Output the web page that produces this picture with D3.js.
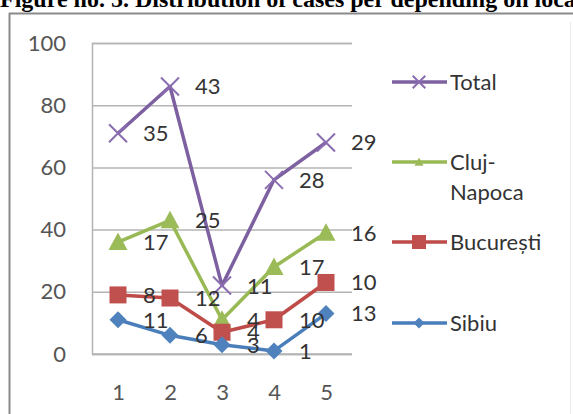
<!DOCTYPE html>
<html>
<head>
<meta charset="utf-8">
<script src="https://cdn.jsdelivr.net/npm/d3@7/dist/d3.min.js"></script>
<style>
  html, body { margin: 0; padding: 0; background: #fff; }
  svg { display: block; }
</style>
</head>
<body>
<svg id="chart" width="573" height="414"></svg>
<script>
// Cases per location, per period (stacked line chart)
const categories = ["1", "2", "3", "4", "5"];
const seriesNames = ["Sibiu", "București", "Cluj-Napoca", "Total"];
const sibiu = [11, 6, 3, 1, 13];
const bucuresti = [8, 12, 4, 10, 10];
const clujNapoca = [17, 25, 4, 17, 16];
const total = [35, 43, 11, 28, 29];
const yTicks = [0, 20, 40, 60, 80, 100];

const seriesValues = [sibiu, bucuresti, clujNapoca, total];
const colors = ["#4A7EBB", "#BE4B48", "#98B954", "#7D60A0"];
const markerFill = ["#4F81BD", "#C0504D", "#9BBB59", "#8A6DB0"];

const rows = categories.map((c, i) => {
  const r = { cat: c };
  seriesNames.forEach((n, k) => { r[n] = seriesValues[k][i]; });
  return r;
});
const stacked = d3.stack().keys(seriesNames)(rows);

const svg = d3.select("#chart");
const font = "Lato, 'Open Sans', sans-serif";

// Title (partly cut off at the top edge)
svg.append("text")
  .attr("x", 0).attr("y", 6.5)
  .attr("font-family", "'Liberation Serif', 'Times New Roman', serif")
  .attr("font-weight", "bold")
  .attr("font-size", 24)
  .attr("fill", "#000")
  .text("Figure no. 5. Distribution of cases per depending on location");

// Chart frame
svg.append("line").attr("x1", 9).attr("x2", 573).attr("y1", 13.5).attr("y2", 13.5)
  .attr("stroke", "#8a8a8a").attr("stroke-width", 2);
svg.append("line").attr("x1", 9.5).attr("x2", 9.5).attr("y1", 13).attr("y2", 414)
  .attr("stroke", "#8a8a8a").attr("stroke-width", 2);
svg.append("line").attr("x1", 570.5).attr("x2", 570.5).attr("y1", 22).attr("y2", 414)
  .attr("stroke", "#ececec").attr("stroke-width", 1);

const plot = { left: 92, right: 352, top: 43, bottom: 354 };
const x = d3.scalePoint().domain(categories).range([plot.left, plot.right]).padding(0.5);
const y = d3.scaleLinear().domain([0, 100]).range([plot.bottom, plot.top]);

// Gridlines
const yAxis = d3.axisLeft(y).tickValues(yTicks).tickSize(-(plot.right - plot.left)).tickPadding(26);
const gy = svg.append("g").attr("transform", `translate(${plot.left},0)`).call(yAxis);
gy.select(".domain").attr("stroke", "#b4b4b4").attr("stroke-width", 1.5);
gy.selectAll(".tick line").attr("stroke", "#b4b4b4").attr("stroke-width", 1.5);
gy.selectAll(".tick text").attr("font-family", font).attr("font-size", 22).attr("fill", "#555");

const xAxis = d3.axisBottom(x).tickSize(0).tickPadding(30);
const gx = svg.append("g").attr("transform", `translate(0,${plot.bottom})`).call(xAxis);
gx.select(".domain").attr("stroke", "#b4b4b4").attr("stroke-width", 1.5)
  .attr("d", `M${plot.left},0H${plot.right}`);
gx.selectAll(".tick text").attr("font-family", font).attr("font-size", 22).attr("fill", "#555");

// Marker shapes
function marker(g, k, size) {
  const c = markerFill[k];
  if (k === 0) {
    const s = size * 0.5;
    g.append("path").attr("d", `M0,${-s}L${s},0L0,${s}L${-s},0Z`).attr("fill", c);
  } else if (k === 1) {
    g.append("rect").attr("x", -size / 2).attr("y", -size / 2)
      .attr("width", size).attr("height", size).attr("fill", c);
  } else if (k === 2) {
    const s = size * 0.5;
    g.append("path").attr("d", `M0,${-s}L${s},${s * 0.85}L${-s},${s * 0.85}Z`).attr("fill", c);
  } else {
    const s = size * 0.45;
    g.append("path").attr("d", `M${-s},${-s}L${s},${s}M${-s},${s}L${s},${-s}`)
      .attr("stroke", c).attr("stroke-width", 2).attr("fill", "none");
  }
}

const line = d3.line().x(d => x(d.data.cat)).y(d => y(d[1]));
const sizes = [17, 17, 19, 20];

// Draw from the top series down so the lower series sit on top
for (let k = seriesNames.length - 1; k >= 0; k--) {
  const layer = stacked[k];
  svg.append("path").datum(layer).attr("d", line)
    .attr("fill", "none").attr("stroke", colors[k]).attr("stroke-width", 3.5)
    .attr("stroke-linejoin", "round");
  layer.forEach(d => {
    const g = svg.append("g").attr("transform", `translate(${x(d.data.cat)},${y(d[1])})`);
    marker(g, k, sizes[k]);
  });
}

// Data labels (series values at the stacked positions)
stacked.forEach((layer, k) => {
  layer.forEach((d, i) => {
    svg.append("text")
      .attr("x", x(d.data.cat) + 25).attr("y", y(d[1]))
      .attr("dy", "0.36em")
      .attr("font-family", font).attr("font-size", 22).attr("fill", "#333")
      .text(seriesValues[k][i]);
  });
});

// Legend (top series first)
const legendRows = [
  { k: 3, y: 82, lines: ["Total"] },
  { k: 2, y: 162, lines: ["Cluj-", "Napoca"] },
  { k: 1, y: 242, lines: ["București"] },
  { k: 0, y: 323, lines: ["Sibiu"] }
];
const legendMarker = [11, 14, 9, 14];
legendRows.forEach(r => {
  const g = svg.append("g").attr("transform", `translate(0,${r.y})`);
  g.append("line").attr("x1", 392).attr("x2", 447).attr("y1", 0).attr("y2", 0)
    .attr("stroke", colors[r.k]).attr("stroke-width", 3.5);
  const m = g.append("g").attr("transform", "translate(419,0)");
  marker(m, r.k, legendMarker[r.k]);
  r.lines.forEach((t, j) => {
    g.append("text").attr("x", 450).attr("y", j * 30).attr("dy", "0.36em")
      .attr("font-family", font).attr("font-size", 22).attr("fill", "#333").text(t);
  });
});
</script>
</body>
</html>
